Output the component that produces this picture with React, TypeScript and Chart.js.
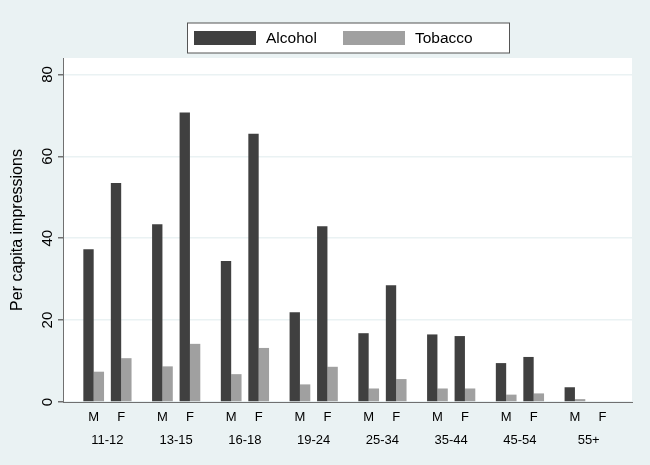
import React, { useEffect, useRef } from 'react';
import { Chart, registerables } from 'chart.js';

Chart.register(...registerables);

const ageGroups = ['11-12', '13-15', '16-18', '19-24', '25-34', '35-44', '45-54', '55+'];
const sexes = ['M', 'F'];
const alcohol = [37.3, 53.5, 43.4, 70.7, 34.4, 65.5, 21.9, 42.9, 16.8, 28.5, 16.5, 16.1, 9.5, 11.0, 3.6, 0];
const tobacco = [7.4, 10.7, 8.7, 14.2, 6.8, 13.2, 4.3, 8.6, 3.3, 5.6, 3.3, 3.3, 1.8, 2.1, 0.7, 0];
const yTicks = [0, 20, 40, 60, 80];
const seriesNames = ['Alcohol', 'Tobacco'];
const yTitle = 'Per capita impressions';

const GROUP_STEP = 2.5;
const positions = ageGroups.flatMap((_, g) => sexes.map((_, s) => g * GROUP_STEP + s));
const sexLabels = ageGroups.flatMap(() => sexes);
const groupCenters = ageGroups.map((_, g) => g * GROUP_STEP + 0.5);

const FONT = '"Liberation Sans", Arial, Helvetica, sans-serif';
const BG = '#eaf2f3';
const GRID = '#eaf2f3';
const AXIS = '#707070';
const X_MIN = -1.116;
const X_MAX = 19.575;

const bgPlugin = {
  id: 'stataBg',
  beforeDraw(chart: any) {
    const { ctx, chartArea } = chart;
    ctx.save();
    ctx.fillStyle = BG;
    ctx.fillRect(0, 0, chart.width, chart.height);
    ctx.fillStyle = '#ffffff';
    ctx.fillRect(chartArea.left, chartArea.top, chartArea.right - chartArea.left, chartArea.bottom - chartArea.top);
    ctx.restore();
  },
};

const legendPlugin = {
  id: 'boxLegend',
  afterDraw(chart: any) {
    const { ctx } = chart;
    const box = { x: 187.5, y: 23, w: 322, h: 30 };
    ctx.save();
    ctx.fillStyle = '#ffffff';
    ctx.fillRect(box.x, box.y, box.w, box.h);
    ctx.strokeStyle = '#555555';
    ctx.lineWidth = 1;
    ctx.strokeRect(box.x, box.y, box.w, box.h);
    const items = chart.data.datasets;
    const starts = [194, 343];
    ctx.font = `15.5px ${FONT}`;
    ctx.textBaseline = 'middle';
    ctx.textAlign = 'left';
    items.forEach((ds: any, i: number) => {
      const sx = starts[i];
      ctx.fillStyle = ds.backgroundColor;
      ctx.fillRect(sx, 31, 62, 14);
      ctx.fillStyle = '#000000';
      ctx.fillText(ds.label, sx + 72, 38.5);
    });
    ctx.restore();
  },
};

export default function App() {
  const ref = useRef<HTMLCanvasElement | null>(null);
  useEffect(() => {
    document.body.style.margin = '0';
    const canvas = ref.current;
    if (!canvas) return;
    const chart = new Chart(canvas, {
      type: 'bar',
      data: {
        datasets: [
          {
            label: seriesNames[0],
            data: positions.map((x, i) => ({ x, y: alcohol[i] })),
            backgroundColor: '#404040',
            borderWidth: 0,
            xAxisID: 'x',
          },
          {
            label: seriesNames[1],
            data: positions.map((x, i) => ({ x, y: tobacco[i] })),
            backgroundColor: '#a0a0a0',
            borderWidth: 0,
            xAxisID: 'x',
          },
        ],
      },
      plugins: [bgPlugin, legendPlugin],
      options: {
        animation: false,
        responsive: false,
        devicePixelRatio: 1,
        categoryPercentage: 0.753,
        barPercentage: 1,
        layout: { padding: { top: 58, right: 18, left: 0, bottom: 0 } },
        plugins: { legend: { display: false }, tooltip: { enabled: false } },
        scales: {
          x: {
            type: 'linear',
            position: 'bottom',
            offset: false,
            min: X_MIN,
            max: X_MAX,
            afterBuildTicks: (s: any) => {
              s.ticks = positions.map((v) => ({ value: v }));
            },
            afterFit: (s: any) => {
              s.height = 23;
            },
            ticks: {
              autoSkip: false,
              minRotation: 0,
              maxRotation: 0,
              padding: 8,
              color: '#000',
              font: { size: 13, family: FONT },
              callback: (_v: any, i: number) => sexLabels[i],
            },
            grid: { display: false, drawTicks: false, offset: false },
            border: { display: true, color: AXIS, width: 1 },
          },
          x2: {
            type: 'linear',
            position: 'bottom',
            offset: false,
            min: X_MIN,
            max: X_MAX,
            afterBuildTicks: (s: any) => {
              s.ticks = groupCenters.map((v) => ({ value: v }));
            },
            afterFit: (s: any) => {
              s.height = 40;
            },
            ticks: {
              autoSkip: false,
              minRotation: 0,
              maxRotation: 0,
              padding: 8,
              color: '#000',
              font: { size: 13, family: FONT },
              callback: (_v: any, i: number) => ageGroups[i],
            },
            grid: { display: false, drawTicks: false, offset: false },
            border: { display: false },
          },
          y: {
            type: 'linear',
            min: 0,
            max: 84,
            afterBuildTicks: (s: any) => {
              s.ticks = yTicks.map((v) => ({ value: v }));
            },
            afterFit: (s: any) => {
              s.width = 63;
            },
            ticks: {
              minRotation: 90,
              maxRotation: 90,
              crossAlign: 'center',
              padding: 2,
              color: '#000',
              font: { size: 15, family: FONT },
            },
            grid: { color: GRID, tickColor: AXIS, tickLength: 5, drawTicks: true, lineWidth: 1.5 },
            border: { display: true, color: AXIS, width: 1 },
            title: {
              display: true,
              text: yTitle,
              color: '#000',
              font: { size: 16, family: FONT },
              padding: { top: 8.4, bottom: 0 },
            },
          },
        },
      } as any,
    });
    return () => chart.destroy();
  }, []);
  return <canvas ref={ref} width={650} height={465} style={{ display: 'block', width: 650, height: 465 }} />;
}
